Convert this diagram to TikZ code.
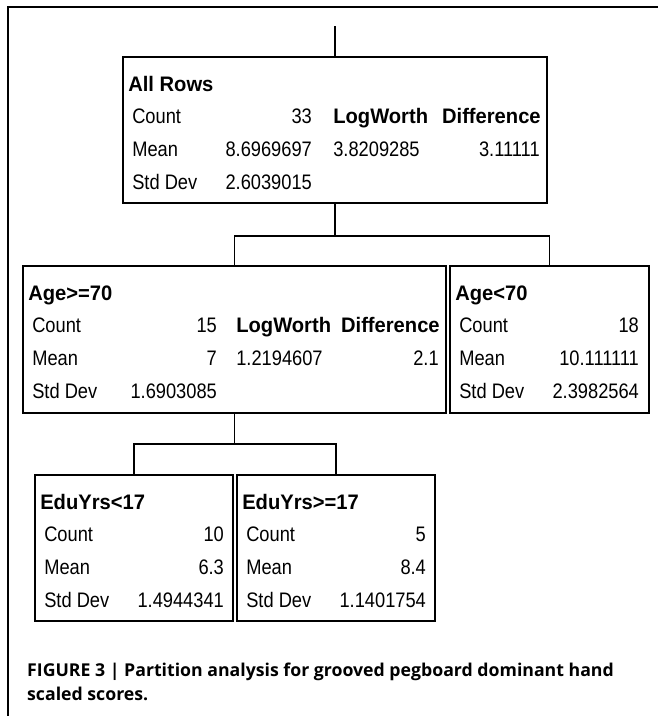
\documentclass[tikz,border=0pt]{standalone}
\usepackage{fontspec}
\setmainfont{Liberation Sans}[FakeStretch=0.87,BoldFeatures={FakeStretch=0.96}]
\newfontfamily\capfont{Open Sans}
\usetikzlibrary{calc}
\tikzset{
  nodebox/.style={draw,line width=1.8pt,inner sep=0pt},
  conn/.style={line width=1.6pt},
  txt/.style={inner sep=0pt,font=\fontsize{21}{24}\selectfont},
  btxt/.style={inner sep=0pt,font=\bfseries\fontsize{21}{24}\selectfont},
  captxt/.style={inner sep=0pt,anchor=base west,font=\capfont\bfseries\fontsize{17.7}{24}\selectfont},
}
% #1 name, #2 title, #3 count, #4 mean, #5 sd, #6 value column x offset
\newcommand\boxstats[6]{%
  \node[btxt,anchor=base west] (#1-t) at ($(#1.north west)+(6,35)$) {#2};
  \node[txt,anchor=base west] (#1-cl) at ($(#1.north west)+(10,67)$) {Count};
  \node[txt,anchor=base west] (#1-ml) at ($(#1.north west)+(10,100)$) {Mean};
  \node[txt,anchor=base west] (#1-sl) at ($(#1.north west)+(10,133)$) {Std Dev};
  \node[txt,anchor=base east] (#1-cv) at ($(#1.north west)+(#6,67)$) {#3};
  \node[txt,anchor=base east] (#1-mv) at ($(#1.north west)+(#6,100)$) {#4};
  \node[txt,anchor=base east] (#1-sv) at ($(#1.north west)+(#6,133)$) {#5};
}
% #1 name, #2 logworth col x offset, #3 logworth, #4 difference
\newcommand\splitstats[4]{%
  \node[btxt,anchor=base west] (#1-lh) at ($(#1.north west)+(#2,67)$) {LogWorth};
  \node[txt,anchor=base west] (#1-lv) at ($(#1.north west)+(#2,100)$) {#3};
  \node[btxt,anchor=base east] (#1-dh) at ($(#1.north east)+(-7,67)$) {Difference};
  \node[txt,anchor=base east] (#1-dv) at ($(#1.north east)+(-8,100)$) {#4};
}
\begin{document}
\begin{tikzpicture}[x=1pt,y=-1pt]
\useasboundingbox (0,0) rectangle (658,716);
% frame (top and left edges)
\draw[line width=1.5pt] (8,716) -- (8,7) -- (658,7);

% boxes
\node[nodebox,minimum width=424pt,minimum height=146pt] (root) at (335,130) {};
\node[nodebox,minimum width=423pt,minimum height=147pt] (agehi) at (234.5,339.5) {};
\node[nodebox,minimum width=199pt,minimum height=147pt] (agelo) at (549.5,339.5) {};
\node[nodebox,minimum width=198pt,minimum height=146pt] (edulo) at (134,548) {};
\node[nodebox,minimum width=198pt,minimum height=146pt] (eduhi) at (336,548) {};

\boxstats{root}{All Rows}{33}{8.6969697}{2.6039015}{190}
\splitstats{root}{211}{3.8209285}{3.11111}
\boxstats{agehi}{Age>=70}{15}{7}{1.6903085}{195}
\splitstats{agehi}{214}{1.2194607}{2.1}
\boxstats{agelo}{Age<70}{18}{10.111111}{2.3982564}{190}
\boxstats{edulo}{EduYrs<17}{10}{6.3}{1.4944341}{190}
\boxstats{eduhi}{EduYrs>=17}{5}{8.4}{1.1401754}{190}

% connectors
\coordinate (top) at (335,26);
\draw[conn] (top) -- (root.north);
\coordinate (j1) at ($(root.south)+(0,32)$);
\draw[conn] (root.south) -- (j1);
\draw[conn] (agehi.north) |- (j1) -| (agelo.north);
\coordinate (j2) at ($(agehi.south)+(0,30)$);
\draw[conn] (agehi.south) -- (j2);
\draw[conn] (edulo.north) |- (j2) -| (eduhi.north);

% caption
\node[captxt] (cap1) at (27,676) {FIGURE 3 | Partition analysis for grooved pegboard dominant hand};
\node[captxt] (cap2) at (27,700) {scaled scores.};
\end{tikzpicture}
\end{document}
